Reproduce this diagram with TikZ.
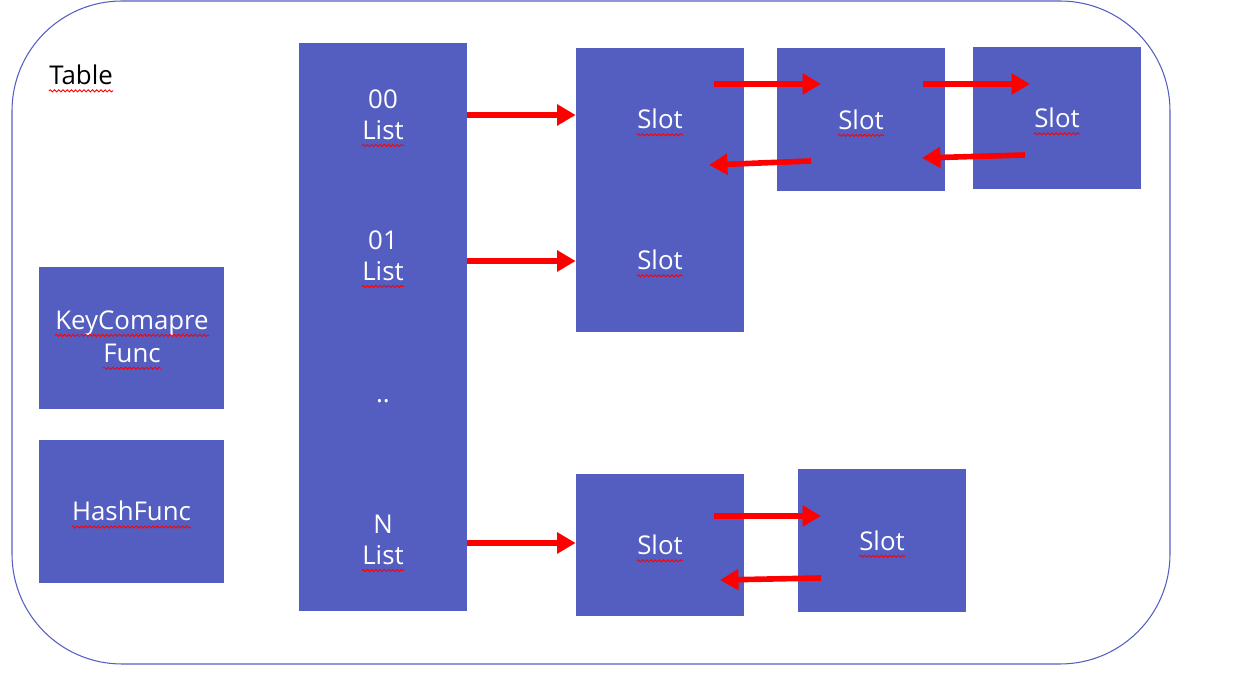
\documentclass[tikz,border=0pt]{standalone}
\usepackage{fontspec}
\setmainfont{Open Sans}
\usetikzlibrary{positioning, arrows.meta, decorations.pathmorphing}

\definecolor{slotblue}{RGB}{84,94,192}
\newcommand{\spell}[1]{\draw[squiggle] ([yshift=-3.5pt]#1.base west) -- ([yshift=-3.5pt]#1.base east);}

\begin{document}
\begin{tikzpicture}[
    x=0.02cm, y=-0.02cm,
    block/.style={rectangle, fill=slotblue, minimum width=3.36cm, minimum height=2.86cm, inner sep=0pt},
    word/.style={text=white, inner sep=0pt, font=\fontsize{14.7}{18}\selectfont},
    arrow/.style={-{Triangle[length=10.5pt, width=11.5pt]}, red, line width=3.2pt},
    squiggle/.style={red, line width=0.5pt, decorate, decoration={snake, amplitude=0.6pt, segment length=2.4pt}}
]
\useasboundingbox (0,0) rectangle (1252,688);

% Table frame
\draw[slotblue, line width=0.6pt, rounded corners=2.2cm] (12,1) rectangle (1170,664);
\node[word, text=black, anchor=west] (table) at (49,75) {Table};

% Functions
\node[block, minimum width=3.7cm, minimum height=2.84cm] (key) at (131.5,338) {};
\node[block, minimum width=3.7cm, below=0.6cm of key] (hash) {};

% Bucket list
\node[block, minimum height=11.36cm] (list) at (383,327) {};

% Slots
\node[block, minimum height=5.68cm] (slotA) at (660,190) {};
\node[block] (slotB) at (861,119.5) {};
\node[block, minimum height=2.84cm] (slotC) at (1057,118) {};
\node[block, minimum height=2.84cm] (slotD) at (660,545) {};
\node[block] (slotE) at (882,540.5) {};

% Texts
\node[word] (k1) at (132,323) {KeyComapre};
\node[word] (k2) at (132,353) {Func};
\node[word] (h1) at (hash) {HashFunc};
\node[word] (n0) at (383,99) {00};
\node[word] (l0) at (383,130) {List};
\node[word] (n1) at (383,240) {01};
\node[word] (l1) at (383,271) {List};
\node[word] (dots) at (383,401) {..};
\node[word] (nN) at (383,524) {N};
\node[word] (lN) at (383,555) {List};
\node[word] (sA1) at (660,119) {Slot};
\node[word] (sA2) at (660,260) {Slot};
\node[word] (sB) at (slotB) {Slot};
\node[word] (sC) at (slotC) {Slot};
\node[word] (sD) at (slotD) {Slot};
\node[word] (sE) at (slotE) {Slot};

\foreach \w in {table, k1, k2, h1, l0, l1, lN, sA1, sA2, sB, sC, sD, sE}
    \spell{\w};

% Arrow ends
\coordinate (r0) at (0,115);
\coordinate (r1) at (0,261);
\coordinate (rN) at (0,543);
\coordinate (ab1) at (714,84);
\coordinate (ab2) at (821,84);
\coordinate (bc1) at (923,84);
\coordinate (bc2) at (1030,84);
\coordinate (ba1) at (811,161);
\coordinate (ba2) at (709,165);
\coordinate (cb1) at (1025,155);
\coordinate (cb2) at (922,158);
\coordinate (de1) at (714,516);
\coordinate (de2) at (821,516);
\coordinate (ed1) at (821,578);
\coordinate (ed2) at (720,580);

% Arrows
\draw[arrow] (list.east |- r0) -- (slotA.west |- r0);
\draw[arrow] (list.east |- r1) -- (slotA.west |- r1);
\draw[arrow] (list.east |- rN) -- (slotD.west |- rN);
\draw[arrow] (ab1) -- (ab2);
\draw[arrow] (bc1) -- (bc2);
\draw[arrow] (ba1) -- (ba2);
\draw[arrow] (cb1) -- (cb2);
\draw[arrow] (de1) -- (de2);
\draw[arrow] (ed1) -- (ed2);
\end{tikzpicture}
\end{document}
